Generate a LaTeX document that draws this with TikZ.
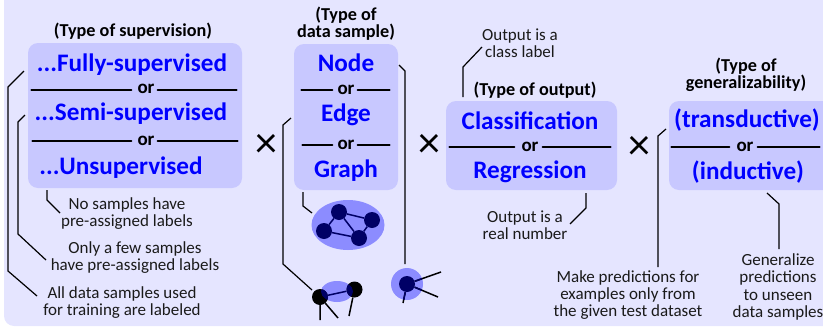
\documentclass[tikz,border=0pt]{standalone}
\usepackage{fontspec}
\setmainfont{Carlito}
\definecolor{paleback}{HTML}{E5E5FF}
\definecolor{boxfill}{HTML}{C8C8FF}
\definecolor{blobfill}{HTML}{8C8CFF}
\definecolor{dotnavy}{HTML}{000066}
\definecolor{notegray}{HTML}{1A1A1A}

\begin{document}
\begin{tikzpicture}[
		x=1pt, y=-1pt,
		groupbox/.style={draw=none, fill=boxfill, rounded corners=10pt},
		choice/.style={text=blue, font=\fontsize{25.2}{28}\selectfont\bfseries, inner sep=0pt},
		ortext/.style={font=\fontsize{19}{22}\selectfont\bfseries, inner sep=0pt},
		heading/.style={font=\fontsize{18.2}{17.5}\selectfont\bfseries, align=center, inner sep=0pt},
		note/.style={text=notegray, font=\fontsize{17}{17.2}\selectfont, align=center, inner sep=0pt},
		times/.style={font=\fontsize{44}{44}\selectfont, inner sep=0pt},
		orline/.style={line width=2pt, line cap=round},
		lead/.style={line width=1.2pt},
		spoke/.style={line width=1.5pt},
		dot/.style={circle, minimum size=16pt, inner sep=0pt, fill=#1}]
		\useasboundingbox (0,0) rectangle (823,327);
		\clip (0,0) rectangle (823,327);
		\fill[paleback, rounded corners=10pt] (4,-20) rectangle (850,326);

		% supervision
		\fill[groupbox] (28,43) rectangle (242,188);
		\node[heading] (suphead) at (133,31) {(Type of supervision)};
		\node[choice] (full) at (132,65) {...Fully-supervised};
		\node[ortext] (orA) at (146,89) {or};
		\node[choice] (semi) at (131,114) {...Semi-supervised};
		\node[ortext] (orB) at (146,140.5) {or};
		\node[choice] (unsup) at (121,168) {...Unsupervised};
		\draw[orline] ([shift={(-6,.5)}]orA.west) -- ++(-100,0);
		\draw[orline] ([shift={(3,.5)}]orA.east) -- ++(79,0);
		\draw[orline] ([shift={(-6,.5)}]orB.west) -- ++(-99,0);
		\draw[orline] ([shift={(3,.5)}]orB.east) -- ++(80,0);
		\node[note] (noneN) at (127,213.5) {No samples have\\pre-assigned labels};
		\node[note] (fewN) at (135,257.5) {Only a few samples\\have pre-assigned labels};
		\node[note] (allN) at (122,302.5) {All data samples used\\for training are labeled};
		\coordinate (unsupEnd) at (47,190);
		\coordinate (noneEnd) at (60,213);
		\coordinate (semiEnd) at (25,115);
		\coordinate (fewEnd) at (46,260);
		\coordinate (fullEnd) at (24,71);
		\coordinate (allEnd) at (37,296);
		\draw[lead] (unsupEnd) -- ++(0,10) -- (noneEnd);
		\draw[lead] (semiEnd) -- ++(-7,7) -- ++(0,112) -- (fewEnd);
		\draw[lead] (fullEnd) -- ++(-16,16) -- ++(0,184) -- (allEnd);
		\node[times] (crossA) at (266,146) {×};

		% data sample
		\fill[groupbox] (294,44) rectangle (398,190);
		\node[heading] (datahead) at (346,23.5) {(Type of\\data sample)};
		\node[choice] (nodeC) at (346,63) {Node};
		\node[ortext] (orC) at (346,89.5) {or};
		\node[choice] (edgeC) at (346,115) {Edge};
		\node[ortext] (orD) at (346,144.5) {or};
		\node[choice] (graphC) at (346,170.5) {Graph};
		\draw[orline] ([shift={(-5,.5)}]orC.west) -- ++(-31,0);
		\draw[orline] ([shift={(3,.5)}]orC.east) -- ++(32,0);
		\draw[orline] ([shift={(-5,.5)}]orD.west) -- ++(-30,0);
		\draw[orline] ([shift={(3,.5)}]orD.east) -- ++(32,0);
		\node[times] (crossB) at (429,146) {×};

		% graph sample
		\fill[blobfill] (348,225) ellipse [x radius=36.5, y radius=25];
		\node[dot=dotnavy] (ga) at (339,212) {};
		\node[dot=dotnavy] (gb) at (372,220) {};
		\node[dot=dotnavy] (gc) at (324,231) {};
		\node[dot=dotnavy] (gd) at (359,238) {};
		\draw[spoke, dotnavy] (ga) -- (gb) (ga) -- (gc) (ga) -- (gd) (gc) -- (gd) (gb) -- (gd);
		\coordinate (graphEnd) at (303,192);
		\coordinate (graphTip) at (312,213);
		\draw[lead] (graphEnd) -- ++(0,14) -- (graphTip);

		% edge sample
		\fill[blobfill] (337,291.5) ellipse [x radius=16, y radius=10.5];
		\node[dot=black] (ea) at (320,297) {};
		\node[dot=black] (eb) at (354.5,289.5) {};
		\begin{scope}
			\clip (337,291.5) ellipse [x radius=16, y radius=10.5];
			\fill[dotnavy] (ea) circle (8) (eb) circle (8);
		\end{scope}
		\draw[spoke, dotnavy] (ea) -- (eb);
		\coordinate (ec) at (320,320);
		\coordinate (ed) at (338,318);
		\coordinate (ee) at (349,316);
		\draw[spoke] (ea) -- (ec) (ea) -- (ed) (eb) -- (ee);
		\coordinate (edgeEnd) at (291,118);
		\coordinate (edgeTip) at (312,290);
		\draw[lead] (edgeEnd) -- ++(-8,7) -- ++(0,139) -- (edgeTip);

		% node sample
		\fill[blobfill] (407,284) circle (16);
		\node[dot=dotnavy] (na) at (407,284) {};
		\coordinate (nb) at (441,272);
		\coordinate (nc) at (438,297);
		\coordinate (nd) at (403,303);
		\draw[spoke] (na) -- (nb) (na) -- (nc) (na) -- (nd);
		\begin{scope}
			\clip (407,284) circle (16);
			\draw[spoke, dotnavy] (na) -- (nb) (na) -- (nc) (na) -- (nd);
		\end{scope}
		\coordinate (nodeEnd) at (399,65);
		\coordinate (nodeTip) at (405,264);
		\draw[lead] (nodeEnd) -- ++(6,6) -- (nodeTip);

		% output
		\fill[groupbox] (446,101) rectangle (617,190);
		\node[heading] (outhead) at (535,90) {(Type of output)};
		\node[choice] (classC) at (530,120.5) {Classification};
		\node[ortext] (orE) at (530,146.5) {or};
		\node[choice] (regC) at (530,172) {Regression};
		\draw[orline] ([shift={(-7,.5)}]orE.west) -- ++(-65,0);
		\draw[orline] ([shift={(4,.5)}]orE.east) -- ++(68,0);
		\node[note] (classN) at (520,43) {Output is a\\class label};
		\node[note] (realN) at (525,225) {Output is a\\real number};
		\coordinate (classEnd) at (463,97);
		\coordinate (classTip) at (482,47);
		\coordinate (regEnd) at (586,193);
		\coordinate (regTip) at (570,224);
		\draw[lead] (classEnd) -- ++(0,-30) -- (classTip);
		\draw[lead] (regEnd) -- ++(0,15) -- (regTip);
		\node[times] (crossC) at (639,148) {×};

		% generalizability
		\fill[groupbox] (669,101) rectangle (850,190);
		\node[heading] (genhead) at (746,75) {(Type of\\generalizability)};
		\node[choice] (transC) at (747,120.5) {(transductive)};
		\node[ortext] (orF) at (745,146.5) {or};
		\node[choice] (indC) at (748,172) {(inductive)};
		\draw[orline] ([shift={(-7,.5)}]orF.west) -- ++(-58,0);
		\draw[orline] ([shift={(4,.5)}]orF.east) -- ++(62,0);
		\node[note] (transN) at (628,295) {Make predictions for\\examples only from\\the given test dataset};
		\node[note] (indN) at (778,287) {Generalize\\predictions\\to unseen\\data samples};
		\coordinate (transEnd) at (666,129);
		\coordinate (transTip) at (658,267);
		\coordinate (indEnd) at (767,193);
		\coordinate (indTip) at (779,249);
		\draw[lead] (transEnd) -- ++(-8,7) -- (transTip);
		\draw[lead] (indEnd) -- ++(12,11) -- (indTip);
	\end{tikzpicture}
\end{document}
